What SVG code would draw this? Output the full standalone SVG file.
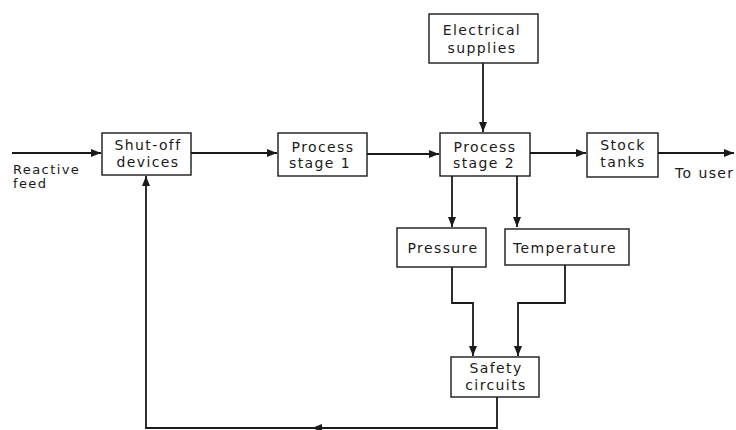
<svg xmlns="http://www.w3.org/2000/svg" width="736" height="430" viewBox="0 0 736 430">
<style>
.box{fill:#fff;stroke:#1a1a1a;stroke-width:1.4}
.t{font-family:"DejaVu Sans",sans-serif;font-size:14px;letter-spacing:1.4px;fill:#1a1a1a}
.s{font-size:13px}
.c{text-anchor:middle}
.ln{fill:none;stroke:#1a1a1a;stroke-width:1.8}
</style>
<defs>
<marker id="ah" viewBox="0 0 10 8" refX="10" refY="4" markerWidth="10" markerHeight="8" markerUnits="userSpaceOnUse" orient="auto">
<path d="M0,0 L10,4 L0,8 Z" fill="#1a1a1a"/>
</marker>
</defs>
<rect width="736" height="430" fill="#fff"/>
<g id="connectors">
<path class="ln" d="M12,153 H101" marker-end="url(#ah)"/>
<path class="ln" d="M191,153 H277" marker-end="url(#ah)"/>
<path class="ln" d="M367,154 H439" marker-end="url(#ah)"/>
<path class="ln" d="M483,63 V132" marker-end="url(#ah)"/>
<path class="ln" d="M530,153 H586" marker-end="url(#ah)"/>
<path class="ln" d="M658,153 H734" marker-end="url(#ah)"/>
<path class="ln" d="M452,176 V227" marker-end="url(#ah)"/>
<path class="ln" d="M517,176 V227" marker-end="url(#ah)"/>
<path class="ln" d="M452,267 V303 H473 V356" marker-end="url(#ah)"/>
<path class="ln" d="M565,265 V303 H518 V356" marker-end="url(#ah)"/>
<path class="ln" d="M497,397 V428 H312"  marker-end="url(#ah)"/>
<path class="ln" d="M318,428 H146 V176" marker-end="url(#ah)"/>
</g>
<g id="shutoff">
<rect class="box" x="102" y="133" width="89" height="42"/>
<text class="t c" x="148" y="150">Shut-off</text>
<text class="t c" x="148" y="167">devices</text>
</g>
<g id="stage1">
<rect class="box" x="278" y="133" width="89" height="43"/>
<text class="t c" x="323" y="152">Process</text>
<text class="t c" x="320" y="168">stage 1</text>
</g>
<g id="electrical">
<rect class="box" x="429" y="14" width="109" height="49"/>
<text class="t c" x="482" y="35">Electrical</text>
<text class="t c" x="482" y="53">supplies</text>
</g>
<g id="stage2">
<rect class="box" x="440" y="133" width="90" height="43"/>
<text class="t c" x="485" y="152">Process</text>
<text class="t c" x="484" y="168">stage 2</text>
</g>
<g id="stock">
<rect class="box" x="587" y="133" width="71" height="44"/>
<text class="t c" x="623" y="150">Stock</text>
<text class="t c" x="623" y="167">tanks</text>
</g>
<g id="pressure">
<rect class="box" x="397" y="228" width="89" height="39"/>
<text class="t c" x="443" y="253">Pressure</text>
</g>
<g id="temperature">
<rect class="box" x="505" y="229" width="124" height="36"/>
<text class="t c" x="565" y="253">Temperature</text>
</g>
<g id="safety">
<rect class="box" x="451" y="357" width="88" height="40"/>
<text class="t c" x="496" y="373">Safety</text>
<text class="t c" x="496" y="390">circuits</text>
</g>
<g id="labels">
<text class="t s" x="13" y="174">Reactive</text>
<text class="t s" x="13" y="188">feed</text>
<text class="t" x="675" y="178">To user</text>
</g>
</svg>
